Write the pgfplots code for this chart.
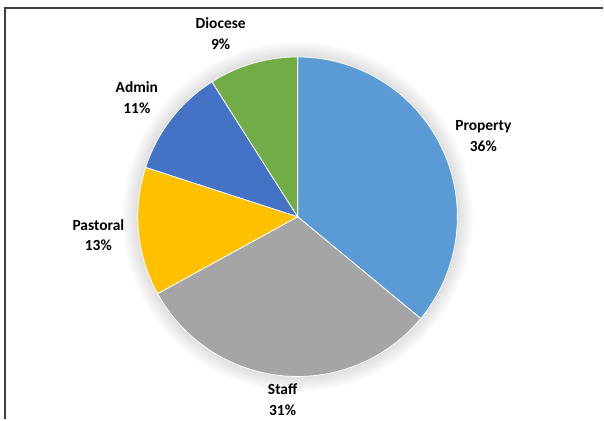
\documentclass[border=0pt]{standalone}
\usepackage{pgfplots}
\usepackage{pgfplotstable}
\pgfplotsset{compat=1.18}
\usepackage{fontspec}
\setmainfont{Carlito}
\definecolor{slice0}{HTML}{5B9BD5}
\definecolor{slice1}{HTML}{A5A5A5}
\definecolor{slice2}{HTML}{FFC000}
\definecolor{slice3}{HTML}{4472C4}
\definecolor{slice4}{HTML}{70AD47}
\definecolor{frame}{HTML}{404040}
\pgfplotstableread{
label value
Property 36
Staff 31
Pastoral 13
Admin 11
Diocese 9
}\piedata
\begin{document}
\begin{tikzpicture}
\begin{axis}[
  at={(0,0)}, anchor=south west,
  width=453pt, height=315pt, scale only axis,
  xmin=0, xmax=604, ymin=-420, ymax=0,
  axis lines=none, ticks=none, clip=false,
]
% frame (top and left edges visible)
\draw[frame, line width=1.2pt] (axis cs:4,-8) -- (axis cs:604,-8);
\draw[frame, line width=1.2pt] (axis cs:5,-8) -- (axis cs:5,-420);
% soft shadow
\pgfplotsinvokeforeach{120.75,121.5,122.25,123,123.75,124.5,125.25,126,126.75,127.5,128.25,129,129.75,130.5,131.25,132}{
  \fill[black, opacity=0.006] (axis cs:298,-217) circle[radius=#1pt];
}
\def\cum{0}
\pgfplotsforeachungrouped \i in {0,...,4} {
  \pgfplotstablegetelem{\i}{value}\of\piedata
  \let\val\pgfplotsretval
  \pgfmathsetmacro\a{90-3.6*\cum}
  \pgfmathsetmacro\b{90-3.6*(\cum+\val)}
  \pgfmathsetmacro\cum{\cum+\val}
  \edef\temp{\noexpand\addplot[fill=slice\i, draw=white, line width=0.6pt, domain=\a:\b, samples=80]
    ({298+160*cos(x)},{-217+160*sin(x)}) -- (axis cs:298,-217) -- cycle;}
  \temp
}
\tikzset{lbl/.style={align=center, font=\fontsize{11.6}{15.5}\selectfont\bfseries, text=black, inner sep=0pt}}
\node[lbl] at (axis cs:484,-136) {Property\\36\%};
\node[lbl] at (axis cs:283,-400) {Staff\\31\%};
\node[lbl] at (axis cs:98.5,-235.5) {Pastoral\\13\%};
\node[lbl] at (axis cs:137,-98) {Admin\\11\%};
\node[lbl] at (axis cs:221,-34) {Diocese\\9\%};
\end{axis}
\useasboundingbox (0,0) rectangle (453pt,315pt);
\end{tikzpicture}
\end{document}
